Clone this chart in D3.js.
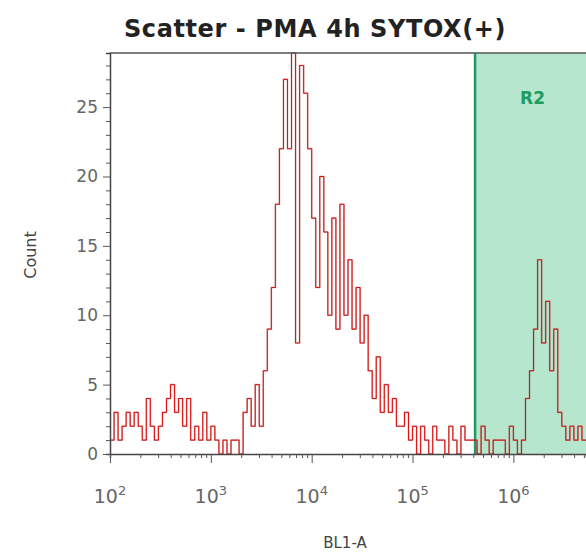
<!DOCTYPE html>
<html><head><meta charset="utf-8">
<script src="https://cdn.jsdelivr.net/npm/d3@7"></script>
<style>body{margin:0;background:#fff;font-family:"DejaVu Sans",sans-serif;}</style>
</head><body><div id="chart"></div>
<script>
// histogram bins: log10 start 2.00, width 0.04 decade
var binStart = 2.0, binWidth = 0.04;
var counts = [1,3,1,2,3,2,3,2,1,4,2,1,
  2,3,4,5,3,4,2,4,1,2,1,3,1,
  2,1,0,1,0,1,1,0,
  3,4,2,5,2,6,9,
  12,18,22,27,22,29,8,28,26,22,
  17,12,20,16,10,17,9,18,10,
  14,9,12,8,10,6,4,7,3,5,
  3,4,2,2,3,1,2,0,2,1,
  0,2,1,1,0,2,1,0,2,1,1,
  1,0,2,1,0,1,1,1,0,2,
  1,0,1,4,6,9,14,8,11,6,
  9,3,2,1,2,1,2,1];
var yTicks = [0, 5, 10, 15, 20, 25];
var xTicks = [2, 3, 4, 5, 6];
var gateStart = 5.62, gateLabel = 'R2';

var W = 586, H = 553, L = 110, T = 53, B = 454;
var x = d3.scaleLinear().domain([2, 6.72]).range([L, W]);
var y = d3.scaleLinear().domain([0, 28.9]).range([B, T]);

var svg = d3.select('#chart').append('svg').attr('width', W).attr('height', H);

// gate region
svg.append('rect').attr('x', x(gateStart)).attr('y', T)
  .attr('width', W - x(gateStart)).attr('height', B - T).attr('fill', '#b6e6cd');
svg.append('line').attr('x1', x(gateStart)).attr('x2', x(gateStart))
  .attr('y1', T).attr('y2', B).attr('stroke', '#1e9a63').attr('stroke-width', 2.5);
svg.append('text').attr('x', (x(gateStart) + W) / 2 + 2).attr('y', 104)
  .attr('text-anchor', 'middle').attr('font-weight', 'bold').attr('font-size', 17)
  .attr('fill', '#1e9a63').text(gateLabel);

// histogram step line
var pts = counts.map(function (c, i) { return [binStart + i * binWidth, c]; });
pts.push([binStart + counts.length * binWidth, counts[counts.length - 1]]);
var line = d3.line().x(function (d) { return x(d[0]); }).y(function (d) { return y(Math.min(d[1], 28.9)); })
  .curve(d3.curveStepAfter);
svg.append('path').datum(pts).attr('d', line).attr('fill', 'none')
  .attr('stroke', '#8a1a1a').attr('stroke-width', 1.6).attr('opacity', 0.4);
svg.append('path').datum(pts).attr('d', line).attr('fill', 'none')
  .attr('stroke', '#e01010').attr('stroke-width', 1);

// frame
svg.append('line').attr('x1', L).attr('x2', W).attr('y1', T).attr('y2', T).attr('stroke', '#555').attr('stroke-width', 1.5);

// y axis
var yAxis = d3.axisLeft(y).tickValues(d3.range(0, 29, 1)).tickSize(4).tickFormat('');
var gy = svg.append('g').attr('transform', 'translate(' + L + ',0)').call(yAxis);
gy.selectAll('line').attr('stroke', '#555');
gy.select('.domain').attr('stroke', '#444').attr('stroke-width', 1.5);
gy.selectAll('.tick line').filter(function (d) { return d % 5 == 0; }).attr('x2', -7);
svg.selectAll('.ylab').data(yTicks).enter().append('text')
  .attr('x', L - 12).attr('y', function (d) { return y(d) + 6; }).attr('text-anchor', 'end')
  .attr('font-size', 17).attr('fill', '#666').text(function (d) { return d; });

// x axis with log minor ticks
var minor = [];
for (var dec = 2; dec < 7; dec++)
  for (var m = 1; m < 10; m++) {
    var v = dec + Math.log10(m);
    if (v <= 6.72) minor.push(v);
  }
var xAxis = d3.axisBottom(x).tickValues(minor).tickSize(4).tickFormat('');
var gx = svg.append('g').attr('transform', 'translate(0,' + B + ')').call(xAxis);
gx.selectAll('line').attr('stroke', '#555');
gx.select('.domain').attr('stroke', '#444').attr('stroke-width', 1.5);
gx.selectAll('.tick line').filter(function (d) { return Math.abs(d - Math.round(d)) < 1e-9; }).attr('y2', 9);

var xl = svg.selectAll('.xlab').data(xTicks).enter().append('text')
  .attr('x', function (d) { return x(d); }).attr('y', 503).attr('text-anchor', 'middle')
  .attr('fill', '#666').attr('font-size', 19);
xl.append('tspan').text('10');
xl.append('tspan').attr('font-size', 13).attr('dy', -8).text(function (d) { return d; });

// labels
svg.append('text').attr('x', 345).attr('y', 548).attr('text-anchor', 'middle')
  .attr('font-size', 15).attr('fill', '#444').text('BL1-A');
svg.append('text').attr('transform', 'translate(36,255) rotate(-90)').attr('text-anchor', 'middle')
  .attr('font-size', 16).attr('fill', '#444').text('Count');
svg.append('text').attr('x', 315).attr('y', 37).attr('text-anchor', 'middle')
  .attr('font-size', 24).attr('font-weight', 'bold').attr('letter-spacing', 0.6).attr('fill', '#222')
  .text('Scatter - PMA 4h SYTOX(+)');
</script></body></html>
